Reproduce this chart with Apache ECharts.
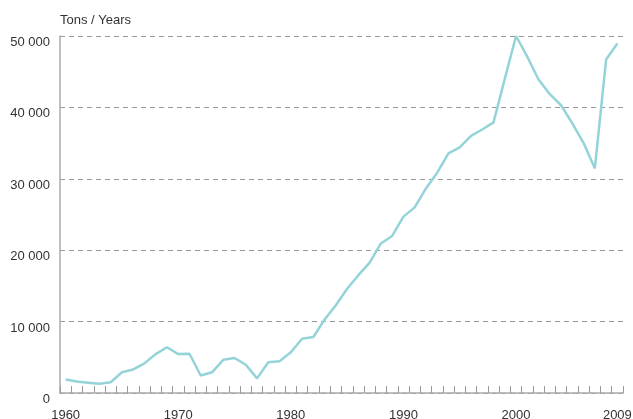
<!DOCTYPE html>
<html>
<head>
<meta charset="utf-8">
<script src="https://cdn.jsdelivr.net/npm/echarts@6/dist/echarts.min.js"></script>
<style>
  html, body { margin: 0; padding: 0; background: #fff; }
  #chart { width: 633px; height: 419px; }
</style>
</head>
<body>
<div id="chart"></div>
<script>
// years 1960..2009
var years = [];
for (var y = 1960; y <= 2009; y++) years.push(String(y));

// tons per year
var tons = [
  1900, 1600, 1450, 1300, 1500, 2900, 3300, 4150, 5450, 6400,
  5450, 5500, 2450, 2900, 4650, 4900, 3950, 2050, 4300, 4450,
  5700, 7600, 7850, 10300, 12300, 14600, 16500, 18250, 20950, 22000,
  24700, 26000, 28650, 30850, 33550, 34400, 36000, 36900, 37900, 44000,
  50000, 47100, 43900, 41850, 40300, 37750, 35000, 31450, 46700, 48950
];

var shownYears = ["1960", "1970", "1980", "1990", "2000", "2009"];
var yMax = 50000;
var yStep = 10000;

var chart = echarts.init(document.getElementById("chart"));
chart.setOption({
  animation: false,
  textStyle: { fontFamily: "Liberation Sans", color: "#333" },
  title: {
    text: "Tons / Years",
    left: 55,
    top: 9,
    textStyle: { fontSize: 13, fontWeight: "normal", color: "#333", fontFamily: "Liberation Sans" }
  },
  grid: { left: 60, right: 10, top: 36, bottom: 26, outerBoundsMode: "none" },
  xAxis: {
    type: "category",
    data: years,
    boundaryGap: true,
    axisLine: { lineStyle: { color: "#aaa", width: 1.5 } },
    axisTick: { show: true, inside: true, length: 7, interval: 0, lineStyle: { color: "#999", width: 1 } },
    axisLabel: {
      interval: function (i, v) { return shownYears.indexOf(v) >= 0; },
      margin: 16,
      fontSize: 13,
      color: "#333"
    },
    splitLine: { show: false }
  },
  yAxis: {
    type: "value",
    min: 0,
    max: yMax,
    interval: yStep,
    axisLine: { show: true, lineStyle: { color: "#aaa", width: 1.5 } },
    axisTick: { show: false },
    axisLabel: {
      margin: 10,
      fontSize: 13,
      color: "#333",
      verticalAlign: "top",
      formatter: function (v) {
        return v === 0 ? "0" : String(v).replace(/(\d)(?=(\d{3})+$)/g, "$1 ");
      }
    },
    splitLine: { show: true, lineStyle: { color: "#999", type: [5, 4], width: 1 } }
  },
  series: [{
    type: "line",
    data: tons,
    symbol: "none",
    lineStyle: { color: "#94d4d8", width: 2.5 }
  }]
});
</script>
</body>
</html>
